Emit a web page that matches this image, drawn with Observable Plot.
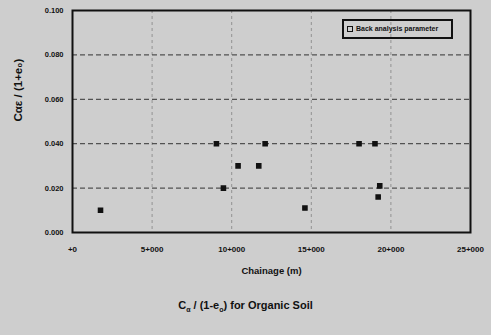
<!DOCTYPE html>
<html><head><meta charset="utf-8">
<script src="https://cdn.jsdelivr.net/npm/d3@7"></script>
<script src="https://cdn.jsdelivr.net/npm/@observablehq/plot@0.6"></script>
<style>
body{margin:0;background:#cecece;font-family:"Liberation Sans",Arial,sans-serif;}
#wrap{position:relative;width:491px;height:335px;}
#legend{position:absolute;left:342px;top:19px;width:104px;height:16px;border:2px solid #111;box-sizing:content-box;font-size:7px;font-weight:bold;line-height:16px;color:#111;white-space:nowrap;padding-left:3px;}
#legend span{display:inline-block;width:4px;height:4px;border:1px solid #111;margin-right:3px;vertical-align:middle;}
#caption{position:absolute;left:0;top:299px;width:491px;text-align:center;font-size:11px;font-weight:bold;color:#111;}
</style></head><body>
<div id="wrap"><div id="chart"></div>
<div id="legend"><span></span>Back analysis parameter</div>
<div id="caption">C<sub style="font-size:7px">α</sub> / (1-e<sub style="font-size:7px">o</sub>) for Organic Soil</div>
</div>
<script>
const chainage = [1760, 9040, 9480, 10400, 11700, 12100, 14600, 18000, 19000, 19300, 19200];
const ratio    = [0.010, 0.040, 0.020, 0.030, 0.030, 0.040, 0.011, 0.040, 0.040, 0.021, 0.016];
const xTicks = [0, 5000, 10000, 15000, 20000, 25000];
const xTickLabels = ["+0", "5+000", "10+000", "15+000", "20+000", "25+000"];
const yTicks = [0, 0.02, 0.04, 0.06, 0.08, 0.10];
const yTickLabels = ["0.000", "0.020", "0.040", "0.060", "0.080", "0.100"];

const data = chainage.map((c, i) => ({c, r: ratio[i]}));
const xFmt = (d) => xTickLabels[xTicks.indexOf(d)];
const yFmt = (d) => yTickLabels[yTicks.findIndex(t => Math.abs(t - d) < 1e-9)];

const plot = Plot.plot({
  width: 491, height: 290,
  marginLeft: 72, marginRight: 21, marginTop: 10, marginBottom: 58,
  style: {background: "transparent", fontFamily: "Liberation Sans, Arial, sans-serif", fontWeight: "bold", color: "#111"},
  x: {domain: [0, 25000], ticks: xTicks, tickFormat: xFmt, tickSize: 0, tickPadding: 14, label: null},
  y: {domain: [0, 0.1], ticks: yTicks, tickFormat: yFmt, tickSize: 0, tickPadding: 9, label: null},
  marks: [
    Plot.gridX(xTicks.slice(1, -1), {stroke: "#777", strokeOpacity: 0.7, strokeDasharray: "3,3", strokeWidth: 1}),
    Plot.gridY(yTicks.slice(1, -1), {stroke: "#333", strokeOpacity: 0.8, strokeDasharray: "5,3", strokeWidth: 1.2}),
    Plot.frame({stroke: "#111", strokeWidth: 2}),
    Plot.axisX({ticks: xTicks, tickFormat: xFmt, tickSize: 0, tickPadding: 14, fontSize: 8, fontWeight: "bold"}),
    Plot.axisY({ticks: yTicks, tickFormat: yFmt, tickSize: 0, tickPadding: 9, fontSize: 7.5, fontWeight: "bold"}),
    Plot.dot(data, {x: "c", y: "r", symbol: "square", r: 2.3, fill: "#111", stroke: "#111"}),
    Plot.text(["Chainage (m)"], {frameAnchor: "bottom", dy: 41, text: d => d, fontSize: 9.5, fontWeight: "bold"}),
    Plot.text(["Cαε / (1+e₀)"], {frameAnchor: "left", dx: -54, rotate: -90, text: d => d, fontSize: 11.5, fontWeight: "bold"})
  ]
});
document.getElementById("chart").appendChild(plot);
</script>
</body></html>
